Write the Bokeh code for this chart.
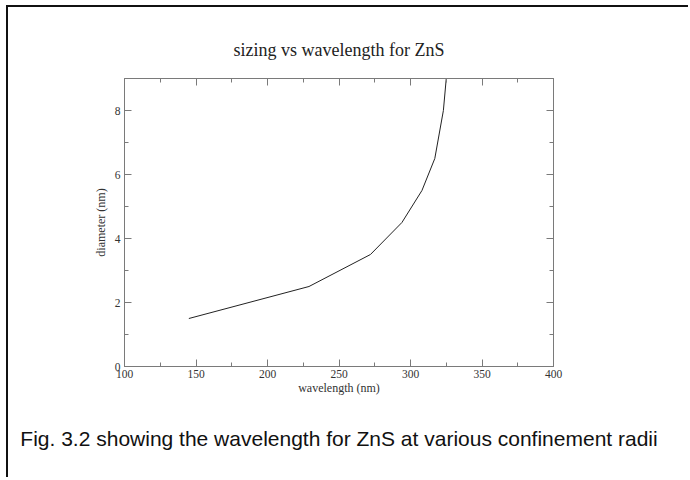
from bokeh.plotting import figure
from bokeh.models import LinearAxis, FixedTicker, Title, Range1d, CustomJSTickFormatter
from bokeh.embed import file_html
from bokeh.resources import INLINE

wavelength = [145, 229, 272, 294, 308, 317, 323, 325]
diameter = [1.5, 2.5, 3.5, 4.5, 5.5, 6.5, 8.0, 9.0]

x_major = [100, 150, 200, 250, 300, 350, 400]
x_minor = [125, 175, 225, 275, 325, 375]
y_major = [0, 2, 4, 6, 8]
y_minor = [1, 3, 5, 7]

title_text = "sizing vs wavelength for ZnS"
x_label = "wavelength (nm)"
y_label = "diameter (nm)"
caption = "Fig. 3.2 showing the wavelength for ZnS at various confinement radii"

SERIF = "Liberation Serif"
AX = "#7a7a7a"

p = figure(width=682, height=472, output_backend="svg", toolbar_location=None,
           x_range=Range1d(100, 400), y_range=Range1d(0, 9),
           x_axis_location=None, y_axis_location=None,
           min_border_left=116, min_border_right=137,
           min_border_top=71, min_border_bottom=113,
           title=title_text)
p.stylesheets = [":host { margin-left: 6px; margin-top: 5px; "
                 "border-left: 2px solid #111; border-top: 2px solid #111; }"]
p.xgrid.visible = False
p.ygrid.visible = False
p.outline_line_color = AX
p.title.align = "center"
p.title.text_font = SERIF
p.title.text_font_size = "18px"
p.title.text_font_style = "normal"
p.title.text_color = "#222"
p.title.standoff = 38

blank = CustomJSTickFormatter(code="return ''")


def style(ax, labels=True):
    ax.axis_line_color = AX
    ax.major_tick_line_color = AX
    ax.minor_tick_line_color = AX
    ax.major_tick_in = 7
    ax.major_tick_out = 0
    ax.minor_tick_in = 4
    ax.minor_tick_out = 0
    ax.major_label_text_font = SERIF
    ax.major_label_text_font_size = "11.5px"
    ax.major_label_text_color = "#333"
    ax.axis_label_text_font = SERIF
    ax.axis_label_text_font_size = "12px"
    ax.axis_label_text_font_style = "normal"
    ax.axis_label_text_color = "#333"
    if not labels:
        ax.formatter = blank
        ax.major_label_standoff = 0


xt = FixedTicker(ticks=x_major, minor_ticks=x_minor)
yt = FixedTicker(ticks=y_major, minor_ticks=y_minor)

xb = LinearAxis(ticker=xt, axis_label=x_label)
style(xb)
xb.major_label_standoff = 3
xb.axis_label_standoff = 0
p.add_layout(xb, "below")

xa = LinearAxis(ticker=xt)
style(xa, labels=False)
p.add_layout(xa, "above")

yl = LinearAxis(ticker=yt, axis_label=y_label)
style(yl)
yl.major_label_standoff = 4
yl.axis_label_standoff = 4
p.add_layout(yl, "left")

yr = LinearAxis(ticker=yt)
style(yr, labels=False)
p.add_layout(yr, "right")

p.line(wavelength, diameter, line_color="#222", line_width=1)

cap = Title(text=caption, align="center", text_font="Liberation Sans",
            text_font_size="21px", text_font_style="normal", text_color="#111",
            standoff=54)
p.add_layout(cap, "below")

open("out.html", "w").write(file_html(p, INLINE))
